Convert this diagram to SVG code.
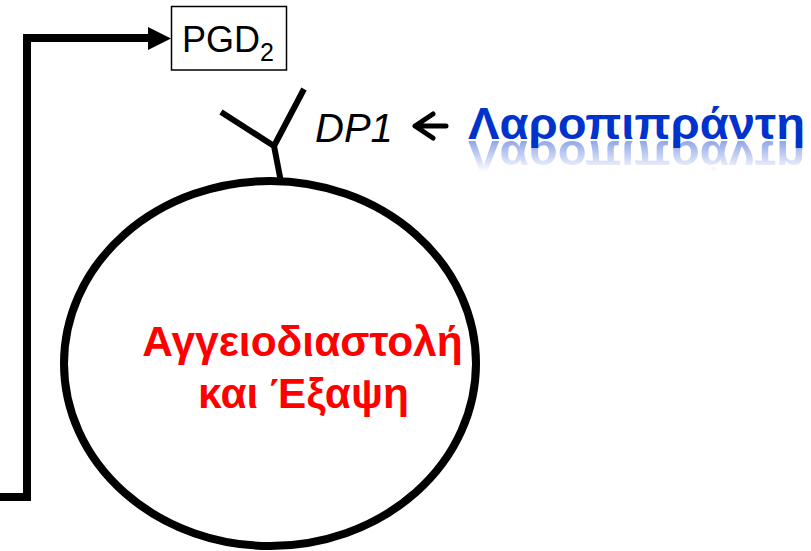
<svg xmlns="http://www.w3.org/2000/svg" width="811" height="551" viewBox="0 0 811 551">
<style>
.conn{fill:none;stroke:#000;stroke-width:8;stroke-linejoin:miter}
.rec{fill:none;stroke:#000;stroke-width:6;stroke-linecap:butt}
.sans{font-family:"Liberation Sans",Arial,sans-serif}
.red{fill:#ff0000;font-weight:bold;font-size:42.5px}
.blue{fill:#0033cc;font-weight:bold;font-size:44px}
</style>
<defs>
<linearGradient id="fade" x1="0" y1="0" x2="0" y2="1">
<stop offset="0" stop-color="#fff" stop-opacity="0.45"/>
<stop offset="1" stop-color="#fff" stop-opacity="0"/>
</linearGradient>
<mask id="refmask" maskUnits="userSpaceOnUse" x="440" y="140" width="371" height="40">
<rect x="440" y="140" width="371" height="32" fill="url(#fade)"/>
</mask>
</defs>
<g id="connectors">
<path class="conn" d="M0,497 H27 V38 H152"/>
<polygon points="148,27 171,38.5 148,50" fill="#000"/>
<path d="M446,126 H417 M433,114 L415,126 L433,138" fill="none" stroke="#000" stroke-width="5" stroke-linecap="round" stroke-linejoin="round"/>
</g>
<g id="pgd2">
<rect x="171.5" y="6.5" width="115" height="63.5" fill="#fff" stroke="#000" stroke-width="1.5"/>
<text class="sans" x="182" y="52" font-size="36">PGD<tspan font-size="25" dy="9">2</tspan></text>
</g>
<g id="cell">
<ellipse cx="270" cy="363.5" rx="206" ry="182.5" fill="#fff" stroke="#000" stroke-width="8"/>
<text class="sans red" x="302.5" y="356" text-anchor="middle">Αγγειοδιαστολή</text>
<text class="sans red" x="303.5" y="408" text-anchor="middle">και Έξαψη</text>
</g>
<g id="dp1">
<path class="rec" d="M221,112 L274,146 L281,182 M274,146 L304,89"/>
<text class="sans" x="315" y="142" font-size="40" font-style="italic">DP1</text>
</g>
<g id="laropiprant">
<text class="sans blue" x="468" y="139" textLength="337" lengthAdjust="spacingAndGlyphs">Λαροπιπράντη</text>
<g mask="url(#refmask)">
<text class="sans blue" x="468" y="139" textLength="337" lengthAdjust="spacingAndGlyphs" transform="translate(0,280) scale(1,-1)">Λαροπιπράντη</text>
</g>
</g>
</svg>
